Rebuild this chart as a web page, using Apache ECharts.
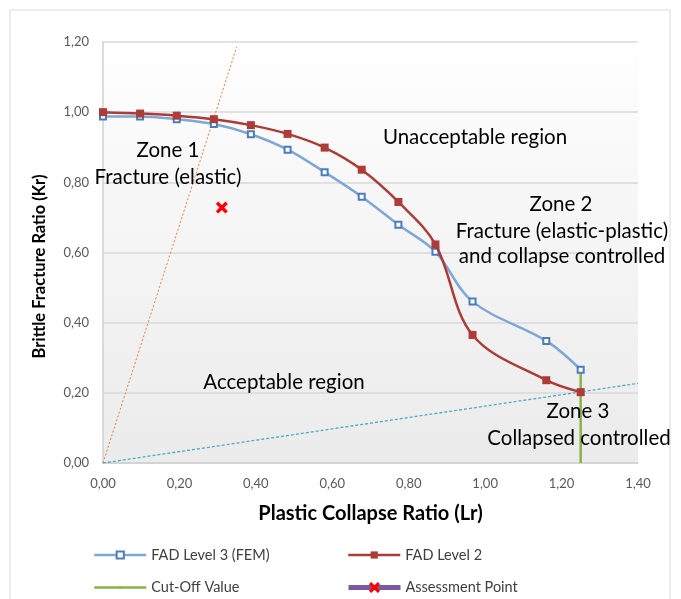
<!DOCTYPE html>
<html>
<head>
<meta charset="utf-8">
<script src="https://cdn.jsdelivr.net/npm/echarts@6/dist/echarts.min.js"></script>
<style>html,body{margin:0;padding:0;background:#fff}#c{width:681px;height:599px}</style>
</head>
<body>
<div id="c"></div>
<script>
var lrValues = [0, 0.097, 0.193, 0.29, 0.387, 0.483, 0.58, 0.677, 0.773, 0.87, 0.967, 1.16, 1.25];
var krLevel3 = [0.988, 0.988, 0.98, 0.966, 0.937, 0.893, 0.829, 0.759, 0.679, 0.602, 0.46, 0.348, 0.266];
var krLevel2 = [1.0, 0.996, 0.99, 0.98, 0.963, 0.938, 0.899, 0.836, 0.744, 0.623, 0.365, 0.236, 0.202];
var cutOff = [[1.25, 0], [1.25, 0.266]];
var assessment = [[0.311, 0.728]];
var elasticLine = [[0, 0], [0.35, 1.186]];
var collapseLine = [[0, 0], [1.40, 0.227]];
var xTicks = [0, 0.2, 0.4, 0.6, 0.8, 1.0, 1.2, 1.4];
var yTicks = [0, 0.2, 0.4, 0.6, 0.8, 1.0, 1.2];

function zip(xs, ys) { return xs.map(function (x, i) { return [x, ys[i]]; }); }
function fmt(v) { return v.toFixed(2).replace('.', ','); }

var FONT = 'Lato';
var TF = '20.5px Lato';
var chart = echarts.init(document.getElementById('c'), null, { renderer: 'canvas' });
var legendText = { color: '#404040', fontSize: 14.5, fontFamily: FONT };
function lg(name, left, top, h, lineW) {
  return { data: [name], left: left, top: top, padding: 0,
    itemWidth: 52, itemHeight: h, itemGap: 6, textStyle: legendText,
    lineStyle: { width: lineW || 'inherit' } };
}
function txt(s, x, y) {
  return { type: 'text', x: x, y: y, z: 10,
    style: { text: s, fill: '#000', font: TF, align: 'center', verticalAlign: 'middle' } };
}
chart.setOption({
  animation: false,
  backgroundColor: '#fff',
  textStyle: { fontFamily: FONT },
  grid: {
    left: 103, right: 43, top: 42, bottom: 136,
    show: true, borderWidth: 0,
    backgroundColor: { type: 'linear', x: 0, y: 0, x2: 0, y2: 1,
      colorStops: [{ offset: 0, color: '#ffffff' }, { offset: 0.15, color: '#fbfbfb' }, { offset: 1, color: '#ebebeb' }] }
  },
  xAxis: {
    type: 'value', min: 0, max: 1.4, interval: 0.2,
    name: 'Plastic Collapse Ratio (Lr)', nameLocation: 'middle', nameGap: 41,
    nameTextStyle: { fontSize: 20, fontWeight: 'bold', color: '#000', fontFamily: FONT },
    axisLine: { show: true, lineStyle: { color: '#d0d0d0', width: 1.5 } },
    axisTick: { show: false },
    axisLabel: { color: '#595959', fontSize: 13, margin: 14, formatter: fmt },
    splitLine: { show: false }
  },
  yAxis: {
    type: 'value', min: 0, max: 1.2, interval: 0.2,
    name: 'Brittle Fracture Ratio (Kr)', nameLocation: 'middle', nameGap: 55,
    nameTextStyle: { fontSize: 16.5, fontWeight: 'bold', color: '#000', fontFamily: FONT, padding: [0, 28, 0, 0] },
    axisLine: { show: true, lineStyle: { color: '#d0d0d0', width: 1.5 } },
    axisTick: { show: false },
    axisLabel: { color: '#595959', fontSize: 13, margin: 14, formatter: fmt },
    splitLine: { show: true, lineStyle: { color: '#d9d9d9', width: 1.5 } }
  },
  legend: [
    lg('FAD Level 3 (FEM)', 93, 547.5, 9),
    lg('FAD Level 2', 347, 547.5, 9),
    lg('Cut-Off Value', 93, 580, 3),
    lg('Assessment Point', 346, 580, 14, 5)
  ],
  series: [
    { name: 'elastic', type: 'line', data: elasticLine, symbol: 'none', silent: true,
      lineStyle: { color: '#ed7d31', width: 1, type: [2, 2] }, z: 1 },
    { name: 'collapse', type: 'line', data: collapseLine, symbol: 'none', silent: true,
      lineStyle: { color: '#4bacc6', width: 1.3, type: [3, 2] }, z: 1 },
    { name: 'Cut-Off Value', type: 'line', data: cutOff, symbol: 'none', legendIcon: 'rect',
      lineStyle: { color: '#8db04a', width: 2.5 }, itemStyle: { color: '#8db04a' }, z: 2 },
    { name: 'FAD Level 3 (FEM)', type: 'line', data: zip(lrValues, krLevel3), smooth: 0.35,
      symbol: 'rect', symbolSize: 6, showAllSymbol: true,
      lineStyle: { color: '#7fa7d6', width: 2.5 },
      itemStyle: { color: '#ffffff', borderColor: '#4a7ebb', borderWidth: 2 }, z: 3 },
    { name: 'FAD Level 2', type: 'line', data: zip(lrValues, krLevel2), smooth: 0.35,
      symbol: 'rect', symbolSize: 8, showAllSymbol: true,
      lineStyle: { color: '#ad3b38', width: 2.5 },
      itemStyle: { color: '#ad3b38' }, z: 4 },
    { name: 'Assessment Point', type: 'line', data: assessment,
      symbol: 'path://M2,0 L5,3 L8,0 L10,2 L7,5 L10,8 L8,10 L5,7 L2,10 L0,8 L3,5 L0,2 Z', symbolSize: 12,
      lineStyle: { color: '#7a5a9e', width: 5 },
      itemStyle: { color: '#ff0000' }, z: 5 }
  ],
  graphic: [
    { type: 'rect', shape: { x: 10, y: 10, width: 660, height: 620 }, style: { fill: 'none', stroke: '#d9d9d9', lineWidth: 1 }, silent: true, z: -1 },
    txt('Unacceptable region', 475, 137),
    txt('Zone 1', 168, 150),
    txt('Fracture (elastic)', 168, 177),
    txt('Zone 2', 561, 204),
    txt('Fracture (elastic-plastic)', 562, 231),
    txt('and collapse controlled', 562, 256),
    txt('Acceptable region', 284, 382),
    txt('Zone 3', 578, 411),
    txt('Collapsed controlled', 579, 438)
  ]
});
</script>
</body>
</html>
